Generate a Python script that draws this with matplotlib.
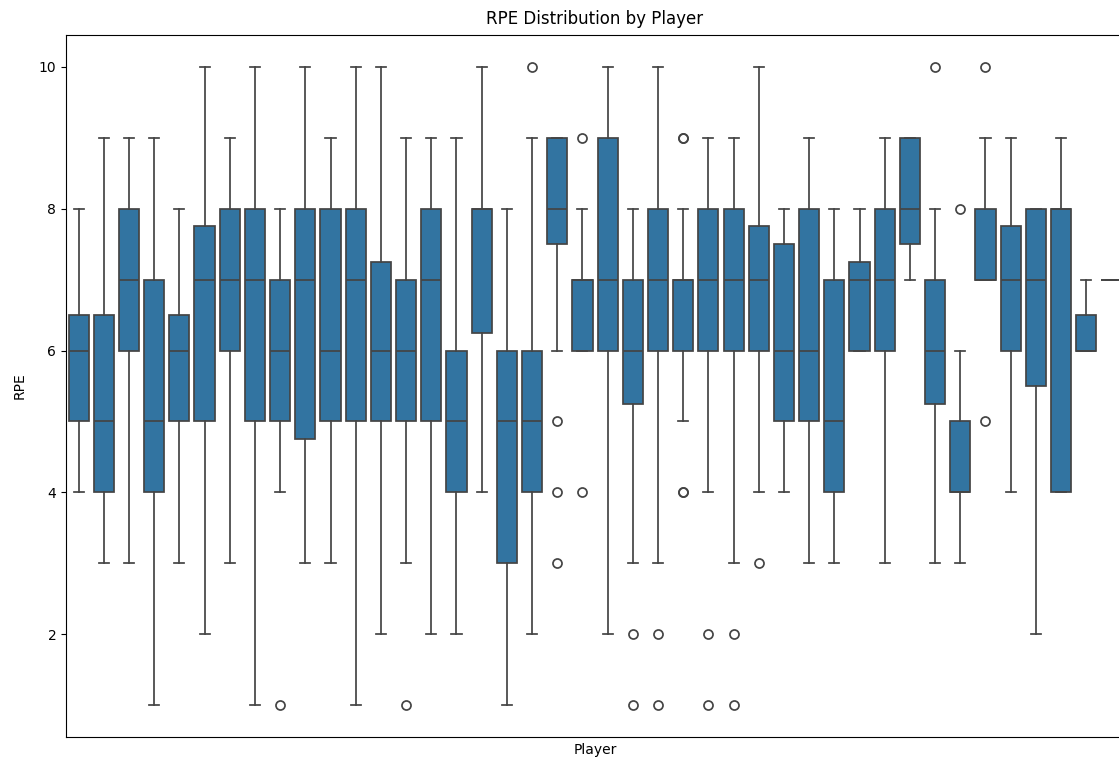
import matplotlib.pyplot as plt

# per-player RPE box statistics
q1 = [5, 4, 6, 4, 5, 5, 6, 5, 5, 4.75, 5, 5, 5, 5, 5, 4, 6.25, 3, 4, 7.5, 6,
      6, 5.25, 6, 6, 6, 6, 6, 5, 5, 4, 6, 6, 7.5, 5.25, 4, 7, 6, 5.5, 4, 6, 7]
med = [6, 5, 7, 5, 6, 7, 7, 7, 6, 7, 6, 7, 6, 6, 7, 5, 8, 5, 5, 8, 7,
       7, 6, 7, 7, 7, 7, 7, 6, 6, 5, 7, 7, 8, 6, 4, 7, 7, 7, 8, 6, 7]
q3 = [6.5, 6.5, 8, 7, 6.5, 7.75, 8, 8, 7, 8, 8, 8, 7.25, 7, 8, 6, 8, 6, 6, 9, 7,
      9, 7, 8, 7, 8, 8, 7.75, 7.5, 8, 7, 7.25, 8, 9, 7, 5, 8, 7.75, 8, 8, 6.5, 7]
whislo = [4, 3, 3, 1, 3, 2, 3, 1, 4, 3, 3, 1, 2, 3, 2, 2, 4, 1, 2, 6, 6,
          2, 3, 3, 5, 4, 3, 4, 4, 3, 3, 6, 3, 7, 3, 3, 7, 4, 2, 4, 6, 7]
whishi = [8, 9, 9, 9, 8, 10, 9, 10, 8, 10, 9, 10, 10, 9, 9, 9, 10, 8, 9, 9, 8,
          10, 8, 10, 8, 9, 9, 10, 8, 9, 8, 8, 9, 9, 8, 6, 9, 9, 8, 9, 7, 7]
outliers = {
    8: [1], 13: [1], 18: [10], 19: [5, 4, 3], 20: [9, 4],
    22: [2, 1], 23: [2, 1], 24: [9, 9, 4, 4], 25: [2, 1], 26: [2, 1],
    27: [3], 34: [10], 35: [8], 36: [10, 5],
}

stats = []
for i in range(len(med)):
    stats.append({
        'q1': q1[i], 'med': med[i], 'q3': q3[i],
        'whislo': whislo[i], 'whishi': whishi[i],
        'fliers': outliers.get(i, []),
    })

fig = plt.figure(figsize=(11.19, 7.6), dpi=100)
ax = fig.add_axes([0.059, 0.0303, 0.9455, 0.9237])

line = '#444444'
ax.bxp(stats, positions=range(len(stats)), widths=0.8, capwidths=0.4,
       patch_artist=True, manage_ticks=False,
       boxprops=dict(facecolor='#3274a1', edgecolor=line, linewidth=1.25),
       medianprops=dict(color=line, linewidth=1.25),
       whiskerprops=dict(color=line, linewidth=1.25),
       capprops=dict(color=line, linewidth=1.25),
       flierprops=dict(marker='o', markerfacecolor='none',
                       markeredgecolor=line, markersize=6.5,
                       markeredgewidth=1.25))

ax.set_xlim(-0.5, len(stats) - 0.5)
ax.set_ylim(0.55, 10.45)
ax.set_xticks([])
ax.set_yticks([2, 4, 6, 8, 10])
ax.set_title('RPE Distribution by Player', pad=8)
ax.set_xlabel('Player')
ax.set_ylabel('RPE', labelpad=9)

fig.savefig('out.png', dpi=100)
